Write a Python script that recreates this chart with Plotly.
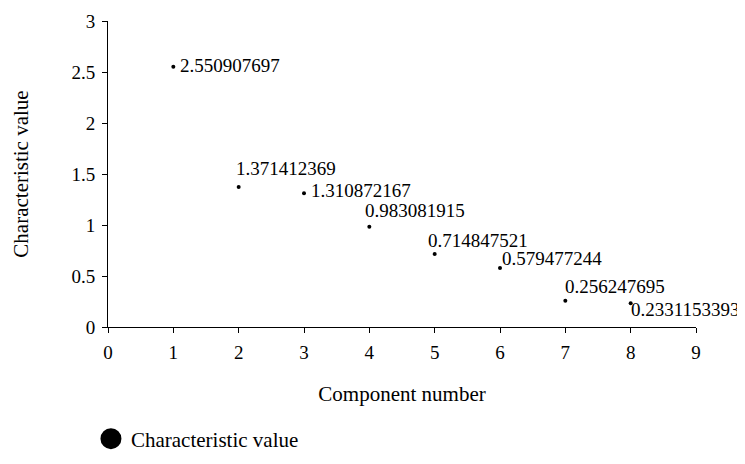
import plotly.graph_objects as go

components = [1, 2, 3, 4, 5, 6, 7, 8]
values = [2.550907697, 1.371412369, 1.310872167, 0.983081915, 0.714847521, 0.579477244, 0.256247695, 0.2331153393]
labels = ["2.550907697", "1.371412369", "1.310872167", "0.983081915", "0.714847521", "0.579477244", "0.256247695", "0.2331153393"]

# label placement offsets (pixels), styling only
label_dx = [5, -5, 5, -6, -9, 0, -2, -2]
label_dy = [1, 19, 3, 16, 14, 9, 14, -6]

FONT = "Liberation Serif"

fig = go.Figure()
fig.add_trace(go.Scatter(
    x=components, y=values, mode="markers",
    marker=dict(color="black", size=4),
    showlegend=False, cliponaxis=False,
))
fig.add_trace(go.Scatter(
    x=[None], y=[None], mode="markers", name="Characteristic value",
    marker=dict(color="black", size=16, line=dict(color="black", width=5)),
))

for xv, yv, t, dx, dy in zip(components, values, labels, label_dx, label_dy):
    fig.add_annotation(
        x=xv, y=yv, text=t, showarrow=False,
        xanchor="left", yanchor="middle", xshift=dx, yshift=dy,
        font=dict(family=FONT, size=19, color="black"),
    )

axis_common = dict(
    showline=True, linecolor="black", linewidth=1,
    ticks="outside", ticklen=5, tickcolor="black",
    showgrid=False, zeroline=False, automargin=False,
    tickfont=dict(family=FONT, size=19, color="black"),
)
fig.update_layout(
    width=745, height=464,
    margin=dict(l=100, r=57, t=13, b=131),
    paper_bgcolor="white", plot_bgcolor="white",
    font=dict(family=FONT, size=19, color="black"),
    xaxis=dict(range=[0, 9], dtick=1,
               title=dict(text="Component number", standoff=24, font=dict(family=FONT, size=21)),
               ticklabelstandoff=3, **axis_common),
    yaxis=dict(range=[0, 3], dtick=0.5,
               title=dict(text="Characteristic value", standoff=37, font=dict(family=FONT, size=21)),
               ticklabelstandoff=3, **axis_common),
    legend=dict(orientation="h", x=-0.029, y=-0.366, xanchor="left", yanchor="middle",
                font=dict(family=FONT, size=21, color="black")),
)
fig.write_html("out.html")
